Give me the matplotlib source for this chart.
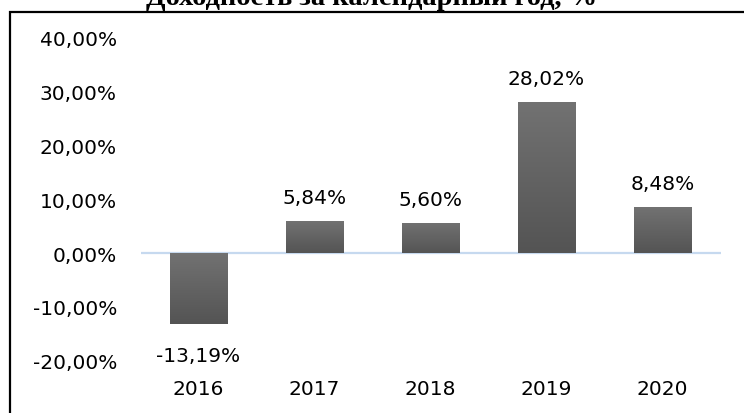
import numpy as np
import matplotlib.pyplot as plt
from matplotlib.patches import Rectangle
from matplotlib.colors import LinearSegmentedColormap

years = ["2016", "2017", "2018", "2019", "2020"]
returns = [-13.19, 5.84, 5.60, 28.02, 8.48]
yticks = [-20, -10, 0, 10, 20, 30, 40]

plt.rcParams['font.family'] = ['DejaVu Sans']

W, H = 744, 414
fig = plt.figure(figsize=(W / 100, H / 100), dpi=100)

# outer chart frame (right/bottom edges fall outside the picture)
fig.patches.append(Rectangle((10 / W, -0.1), 1.2, 1 - 13 / H + 0.1,
                             transform=fig.transFigure, fill=False,
                             edgecolor='black', linewidth=1.6))

fig.text(372 / W, 1 - 5 / H, "Доходность за календарный год, %",
         ha='center', va='baseline', fontsize=20.5, fontweight='bold',
         family=['Liberation Serif', 'DejaVu Serif'])

ax = fig.add_axes([140.5 / W, 1 - 362 / H, 580 / W, (362 - 38) / H])
x = np.arange(len(years))
bars = ax.bar(x, returns, width=0.5, color='#626262', zorder=2)

# vertical grey gradient on each bar
grad = np.linspace(0, 1, 100).reshape(-1, 1)
cmap = LinearSegmentedColormap.from_list('g', ['#545454', '#727272'])
for b in bars:
    x0, y0 = b.get_x(), b.get_y()
    w, h = b.get_width(), b.get_height()
    ylo, yhi = min(y0, y0 + h), max(y0, y0 + h)
    im = ax.imshow(grad, cmap=cmap, origin='lower',
                   extent=[x0, x0 + w, ylo, yhi], aspect='auto', zorder=3)
    im.set_clip_path(b)

ax.axhline(0, color='#c6d9ef', linewidth=1.6, zorder=1)

for xi, v in zip(x, returns):
    label = f"{v:.2f}%".replace('.', ',')
    off = 13 if v >= 0 else -26.5
    ax.annotate(label, (xi, v), xytext=(0, off), textcoords='offset points',
                ha='center', va='baseline', fontsize=14.5)

ax.set_xlim(-0.5, len(years) - 0.5)
ax.set_ylim(-20, 40)
ax.set_yticks(yticks)
ax.set_yticklabels([f"{t:.2f}%".replace('.', ',') for t in yticks], fontsize=14.5)
ax.set_xticks(x)
ax.set_xticklabels(years, fontsize=14.5)
ax.tick_params(axis='y', length=0, pad=17)
ax.tick_params(axis='x', length=0, pad=13)
for s in ax.spines.values():
    s.set_visible(False)

fig.savefig("out.png", dpi=100)
